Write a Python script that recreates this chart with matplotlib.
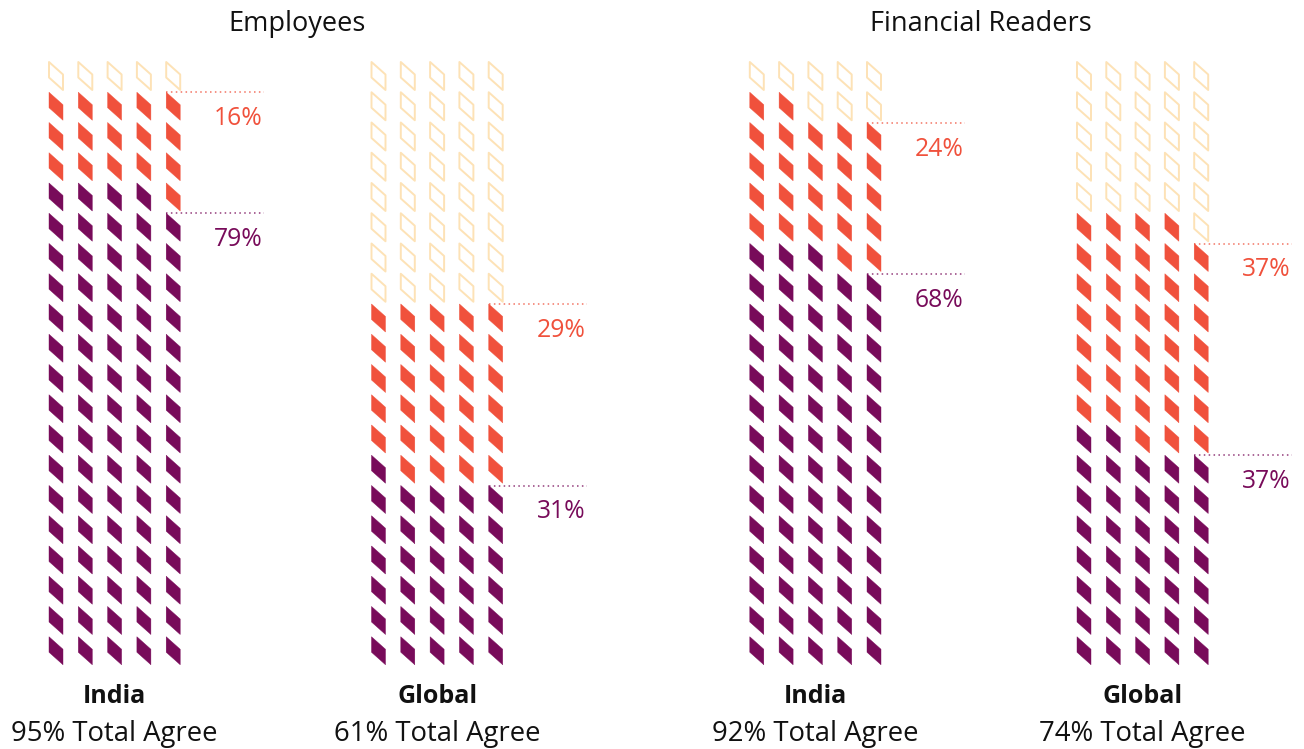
#!/usr/bin/env python3

import matplotlib
matplotlib.use("Agg")
import matplotlib.pyplot as plt
from matplotlib.collections import PolyCollection

plt.rcParams['font.family'] = ['Open Sans', 'DejaVu Sans']

# data
panels = ["Employees", "Financial Readers"]
groups = ["India", "Global", "India", "Global"]
total_agree = [95, 61, 92, 74]
strongly = [79, 31, 68, 37]     # purple
somewhat = [16, 29, 24, 37]     # orange

PURPLE = "#780b5a"
ORANGE = "#f0513c"
EMPTY = "#fde2b6"

# layout (pixels)
W, H = 1304, 749
group_x0 = [49.0, 371.5, 749.8, 1077.0]
col_dx = 29.3
row_dy = 30.25
top_y = 62
icon_w, icon_s, icon_h = 14, 12.5, 15.5
n_cols, n_rows = 5, 20


def icon(x0, y0):
    return [(x0, y0), (x0 + icon_w, y0 + icon_s),
            (x0 + icon_w, y0 + icon_s + icon_h), (x0, y0 + icon_h)]


def main():
    fig = plt.figure(figsize=(W / 100, H / 100), dpi=100)
    ax = fig.add_axes([0, 0, 1, 1])
    ax.set_xlim(0, W)
    ax.set_ylim(H, 0)
    ax.axis('off')

    for g in range(4):
        x0 = group_x0[g]
        p, o = strongly[g], somewhat[g]
        filled, faces, empty = [], [], []
        for k in range(n_cols * n_rows):
            row = n_rows - 1 - k // n_cols
            col = k % n_cols
            poly = icon(x0 + col * col_dx, top_y + row * row_dy)
            if k < p:
                filled.append(poly)
                faces.append(PURPLE)
            elif k < p + o:
                filled.append(poly)
                faces.append(ORANGE)
            else:
                empty.append(poly)
        ax.add_collection(PolyCollection(filled, facecolors=faces,
                                         edgecolors=faces, linewidths=0.3))
        ax.add_collection(PolyCollection(empty, facecolors='none',
                                         edgecolors=EMPTY, linewidths=1.4))

        # marker lines + labels
        x_start = x0 + (n_cols - 1) * col_dx
        x_end = x0 + 215
        for count, val, color in [(p + o, o, ORANGE), (p, p, PURPLE)]:
            row = n_rows - count // n_cols
            y = top_y + row * row_dy
            ax.plot([x_start, x_end], [y, y], color=color, lw=1.1,
                    ls=(0, (1, 2.2)), alpha=0.8)
            ax.text(x0 + 214, y + 33, f"{val}%", color=color,
                    fontsize=17.8, ha='right', va='baseline')

        cx = x0 + ((n_cols - 1) * col_dx + icon_w) / 2
        ax.text(cx, 703, groups[g], fontsize=18, fontweight='bold',
                ha='center', va='baseline', color='#111111')
        ax.text(cx, 741, f"{total_agree[g]}% Total Agree", fontsize=19.8,
                ha='center', va='baseline', color='#111111')

    ax.text(297, 31, panels[0], fontsize=19.5, ha='center', va='baseline',
            color='#111111')
    ax.text(981, 31, panels[1], fontsize=19.5, ha='center', va='baseline',
            color='#111111')

    fig.savefig("out.png", dpi=100)


if __name__ == "__main__":
    main()
